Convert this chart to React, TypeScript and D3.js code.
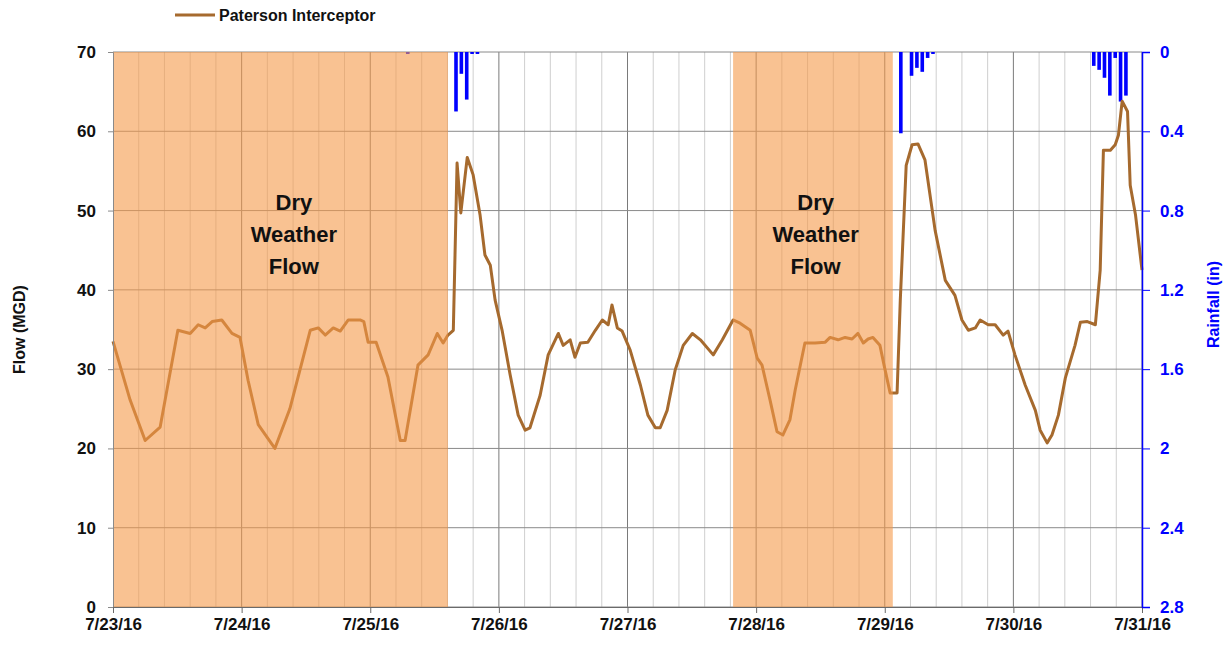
import { useEffect, useRef } from 'react';
import * as d3 from 'd3';

// hours since 7/23/16 00:00 and flow in MGD
const flowHours = [
  0, 3.2, 6, 8.8, 12.1, 14.4, 15.9, 17.2, 18.5, 20.3, 22.2, 23.7, 25.2, 27.1, 30.2, 33, 36.8, 38.3,
  39.6, 41.1, 42.4, 43.9, 46.1, 46.8, 47.6, 49.1, 51.3, 53.6, 54.5, 56.9, 58.8, 60.5, 61.6, 62.5,
  63.5, 64.2, 64.9, 66.1, 67.2, 68.5, 69.4, 70.4, 71.3, 72.6, 74.1, 75.6, 76.9, 77.8, 79.7, 81.2,
  83.1, 84, 85.3, 86.2, 87.2, 88.6, 90, 91.3, 92.4, 93.1, 94.1, 95, 96.5, 98.4, 99.8, 101.2, 102.1,
  103.4, 104.9, 106.4, 108.1, 109.6, 112, 113.7, 115.7, 117, 118.9, 120.2, 121.1, 122.6, 123.9, 125,
  126.3, 127.3, 129.1, 131, 132.9, 133.8, 135.3, 136.6, 137.9, 139, 140, 140.9, 141.8, 143.1, 144,
  145, 146.3, 146.9, 148, 149.1, 150.2, 151.5, 153.4, 155.3, 157.1, 158.4, 159.6, 160.9, 161.8,
  163.3, 164.6, 166.1, 167, 168.3, 170.2, 172.1, 173, 174.3, 175.2, 176.4, 177.7, 179.5, 180.5,
  181.8, 183.3, 184.2, 184.8, 186.1, 187, 187.6, 188.3, 189.3, 189.8, 190.8, 192,
];
const flowValues = [
  33.5, 26.1, 21, 22.7, 34.9, 34.5, 35.6, 35.2, 36, 36.2, 34.5, 34, 28.6, 23, 20, 25, 34.9, 35.2,
  34.3, 35.2, 34.8, 36.2, 36.2, 36, 33.4, 33.4, 29, 21, 21, 30.5, 31.8, 34.5, 33.3, 34.3,
  34.9, 56, 49.7, 56.7, 54.5, 49.4, 44.4, 43.1, 38.7, 34.9, 29.3, 24.2, 22.3, 22.6, 26.7, 31.8,
  34.5, 33, 33.7, 31.5, 33.3, 33.4, 34.9, 36.2, 35.6, 38.1, 35.2, 34.8, 32.4, 28, 24.2, 22.6, 22.6,
  24.8, 29.9, 33, 34.5, 33.7, 31.8, 33.7, 36.2, 35.8, 34.9, 31.4, 30.5, 26.1, 22.1, 21.7,
  23.6, 27.4, 33.3, 33.3, 33.4, 34, 33.7, 34, 33.8, 34.5, 33.3, 33.8, 34, 33, 30.1,
  27, 27, 38.7, 55.7, 58.3, 58.4, 56.4, 47.5, 41.2, 39.3, 36.2, 34.9, 35.2, 36.2,
  35.6, 35.6, 34.3, 34.8, 31.8, 28, 24.8, 22.3, 20.7, 21.7, 24.2, 28.9, 33, 35.9,
  36, 35.6, 42.5, 57.6, 57.6, 58.3, 59.5, 63.8, 62.5, 53.2, 49.4, 42.5,
];

// hourly rainfall (in)
const rainHours = [55, 64, 65, 66, 67, 68, 147, 149, 150, 151, 152, 153, 183, 184, 185, 186, 187, 188, 189];
const rainValues = [0.01, 0.3, 0.11, 0.24, 0.01, 0.01, 0.41, 0.12, 0.08, 0.1, 0.03, 0.01, 0.07, 0.09, 0.13, 0.22, 0.03, 0.25, 0.22];

// dry weather periods (hours)
const dryStart = [0, 115.7];
const dryEnd = [62.5, 145.5];

const flowTicks = [0, 10, 20, 30, 40, 50, 60, 70];
const rainTicks = [0, 0.4, 0.8, 1.2, 1.6, 2, 2.4, 2.8];

const base = new Date(2016, 6, 23);
const toDate = (h: number) => new Date(base.getTime() + h * 3600e3);

export default function App() {
  const svgRef = useRef<SVGSVGElement>(null);

  useEffect(() => {
    const svgEl = svgRef.current;
    if (!svgEl) return;
    d3.select(svgEl).selectAll('*').remove();

    const margin = { top: 52, right: 89, bottom: 42, left: 113 };
    const W = 1231, H = 649;
    const width = W - margin.left - margin.right;
    const height = H - margin.top - margin.bottom;
    const font = 'Liberation Sans, Arial, sans-serif';

    const svg = d3.select(svgEl).attr('width', W).attr('height', H)
      .append('g').attr('transform', `translate(${margin.left},${margin.top})`);

    const x = d3.scaleTime().domain([base, new Date(2016, 6, 31)]).range([0, width]);
    const y = d3.scaleLinear().domain([0, 70]).range([height, 0]);
    const yr = d3.scaleLinear().domain([0, 2.8]).range([0, height]);

    // minor vertical grid every 0.2 day
    const minor = d3.range(1, 40).filter(i => i % 5 !== 0).map(i => toDate(i * 4.8));
    svg.append('g').selectAll('line').data(minor).enter().append('line')
      .attr('x1', d => x(d)).attr('x2', d => x(d)).attr('y1', 0).attr('y2', height)
      .attr('stroke', '#cfcfcf').attr('stroke-width', 1);
    const days = d3.timeDay.range(base, new Date(2016, 6, 31, 1));
    svg.append('g').selectAll('line').data(days.slice(1)).enter().append('line')
      .attr('x1', d => x(d)).attr('x2', d => x(d)).attr('y1', 0).attr('y2', height)
      .attr('stroke', '#7a7a7a').attr('stroke-width', 1);
    svg.append('g').selectAll('line').data(flowTicks).enter().append('line')
      .attr('x1', 0).attr('x2', width).attr('y1', d => y(d)).attr('y2', d => y(d))
      .attr('stroke', '#8a8a8a').attr('stroke-width', 1);

    // rainfall bars hanging from top
    svg.append('g').selectAll('rect').data(rainHours).enter().append('rect')
      .attr('x', d => x(toDate(d)) - 1.8)
      .attr('y', 0)
      .attr('width', 3.6)
      .attr('height', (d, i) => yr(rainValues[i]))
      .attr('fill', '#0000ff');

    // flow line
    const line = d3.line<number>()
      .x(d => x(toDate(d)))
      .y((d, i) => y(flowValues[i]));
    svg.append('path').datum(flowHours)
      .attr('d', line)
      .attr('fill', 'none')
      .attr('stroke', '#a66a2e')
      .attr('stroke-width', 3)
      .attr('stroke-linejoin', 'round');

    // dry weather shading on top
    svg.append('g').selectAll('rect').data(dryStart).enter().append('rect')
      .attr('x', d => x(toDate(d)))
      .attr('y', 0)
      .attr('width', (d, i) => x(toDate(dryEnd[i])) - x(toDate(d)))
      .attr('height', height)
      .attr('fill', '#f59a4a')
      .attr('opacity', 0.6);

    const labelX = [(dryStart[0] + dryEnd[0]) / 2 + 2.5, (dryStart[1] + dryEnd[1]) / 2 + 0.5];
    labelX.forEach(h => {
      const t = svg.append('text')
        .attr('x', x(toDate(h))).attr('y', 158)
        .attr('text-anchor', 'middle')
        .style('font-family', font).style('font-size', '22px').style('font-weight', 'bold')
        .attr('fill', '#111');
      ['Dry', 'Weather', 'Flow'].forEach((s, k) => {
        t.append('tspan').attr('x', x(toDate(h))).attr('dy', k === 0 ? 0 : 32).text(s);
      });
    });

    // left axis
    const left = svg.append('g').call(d3.axisLeft(y).tickValues(flowTicks).tickSize(5).tickPadding(12));
    left.select('.domain').attr('stroke', '#8a8a8a');
    left.selectAll('line').attr('stroke', '#8a8a8a');
    left.selectAll('text').style('font-family', font).style('font-size', '17px').style('font-weight', 'bold').attr('fill', '#111');

    // bottom axis
    const bottom = svg.append('g').attr('transform', `translate(0,${height})`)
      .call(d3.axisBottom(x).tickValues(days).tickSize(6).tickPadding(5).tickFormat(d3.timeFormat('%-m/%-d/%y') as any));
    bottom.select('.domain').attr('stroke', '#6a6a6a');
    bottom.selectAll('line').attr('stroke', '#6a6a6a');
    bottom.selectAll('text').style('font-family', font).style('font-size', '17px').style('font-weight', 'bold').attr('fill', '#111');

    // right axis
    const right = svg.append('g').attr('transform', `translate(${width},0)`)
      .call(d3.axisRight(yr).tickValues(rainTicks).tickSize(8).tickPadding(10).tickFormat(d3.format('~g')));
    right.select('.domain').attr('stroke', '#0000ff').attr('stroke-width', 1.5);
    right.selectAll('line').attr('stroke', '#0000ff');
    right.selectAll('text').style('font-family', font).style('font-size', '17px').style('font-weight', 'bold').attr('fill', '#0000ff');

    // axis titles
    svg.append('text')
      .attr('transform', `translate(${-88},${height / 2}) rotate(-90)`)
      .attr('text-anchor', 'middle')
      .style('font-family', font).style('font-size', '16px').style('font-weight', 'bold')
      .attr('fill', '#111').text('Flow (MGD)');
    svg.append('text')
      .attr('transform', `translate(${width + 77},${height / 2 - 25}) rotate(-90)`)
      .attr('text-anchor', 'middle')
      .style('font-family', font).style('font-size', '16px').style('font-weight', 'bold')
      .attr('fill', '#0000ff').text('Rainfall (in)');

    // legend
    const lg = svg.append('g').attr('transform', `translate(${175 - margin.left},${15 - margin.top})`);
    lg.append('line').attr('x1', 0).attr('x2', 40).attr('y1', 0).attr('y2', 0)
      .attr('stroke', '#a66a2e').attr('stroke-width', 3);
    lg.append('text').attr('x', 44).attr('y', 6)
      .style('font-family', font).style('font-size', '16px').style('font-weight', 'bold')
      .attr('fill', '#111').text('Paterson Interceptor');
  }, []);

  return (
    <div style={{ position: 'absolute', left: 0, top: 0 }}>
      <svg ref={svgRef} style={{ display: 'block' }}></svg>
    </div>
  );
}
